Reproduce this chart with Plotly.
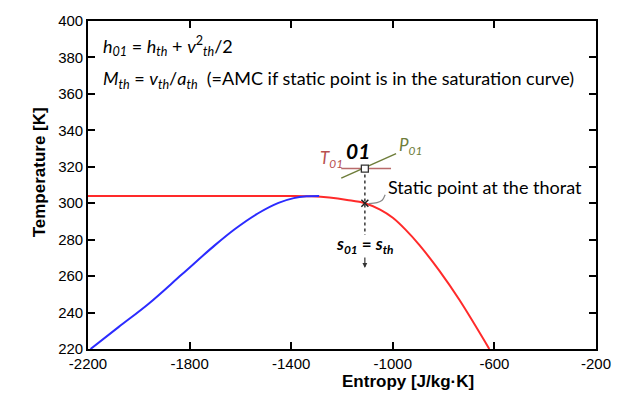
import plotly.graph_objects as go

# ---- data ----
blue_s = [-2190, -2080, -1960, -1830, -1700, -1620, -1530, -1450, -1390, -1340, -1290]
blue_T = [220, 232, 245, 261, 277, 286, 294.5, 300.2, 302.8, 303.8, 304]

red_s = [-2200, -1400, -1320, -1250, -1180, -1110, -1050, -1000, -950, -895, -817, -738, -620]
red_T = [304, 304, 303.8, 303.1, 301.8, 300.0, 296.5, 292.0, 285.5, 277, 263, 247, 220]

static_s, static_T = -1110, 300
stag_s, stag_T = -1110, 319

iso_T_s = [-1203, -1007]
iso_T_T = [319, 319]
iso_P_s = [-1203, -987]
iso_P_T = [313.8, 327.2]

vline_s = [-1110, -1110]
vline_T = [319, 282.5]

leader_s = [-1030, -1042, -1062, -1095]
leader_T = [304.6, 301.6, 300.3, 299.8]

x_ticks = [-2200, -1800, -1400, -1000, -600, -200]
x_ticktext = ["-2200", "-1800", "-1400", "-1000", "-600", "-200"]
y_ticks = [220, 240, 260, 280, 300, 320, 340, 360, 380, 400]
y_ticktext = [str(v) for v in y_ticks]

fig = go.Figure()
fig.add_trace(go.Scatter(x=red_s, y=red_T, mode="lines", line=dict(color="#ff2a2a", width=2, shape="spline", smoothing=1.0), hoverinfo="skip"))
fig.add_trace(go.Scatter(x=blue_s, y=blue_T, mode="lines", line=dict(color="#2b2bff", width=2, shape="spline", smoothing=1.0), hoverinfo="skip"))
fig.add_trace(go.Scatter(x=iso_T_s, y=iso_T_T, mode="lines", line=dict(color="#b86a6a", width=1.5), hoverinfo="skip"))
fig.add_trace(go.Scatter(x=iso_P_s, y=iso_P_T, mode="lines", line=dict(color="#6e7d3a", width=1.5), hoverinfo="skip"))
fig.add_trace(go.Scatter(x=vline_s, y=vline_T, mode="lines", line=dict(color="#444444", width=1.6, dash="dot"), hoverinfo="skip"))
fig.add_trace(go.Scatter(x=leader_s, y=leader_T, mode="lines", line=dict(color="#888888", width=1.2, shape="spline"), hoverinfo="skip"))
fig.add_trace(go.Scatter(x=[static_s], y=[static_T], mode="markers", marker=dict(symbol="x-thin", size=7, line=dict(color="#222222", width=1.5)), hoverinfo="skip"))
fig.add_trace(go.Scatter(x=[stag_s], y=[stag_T], mode="markers", marker=dict(symbol="square", size=7, color="white", line=dict(color="#333333", width=1.3)), hoverinfo="skip"))

txt = "Lato"
ann = []
ann.append(dict(x=-2150, y=386.5, xref="x", yref="y", xanchor="left", yanchor="middle", showarrow=False,
                text="<i>h</i><sub><i>01</i></sub> = <i>h</i><sub><i>th</i></sub> + <i>v</i><sup>2</sup><sub><i>th</i></sub>/2",
                font=dict(family=txt, size=18, color="black")))
ann.append(dict(x=-2150, y=367.8, xref="x", yref="y", xanchor="left", yanchor="middle", showarrow=False,
                text="<i>M</i><sub><i>th</i></sub> = <i>v</i><sub><i>th</i></sub>/<i>a</i><sub><i>th</i></sub>  (=AMC if static point is in the saturation curve)",
                font=dict(family=txt, size=18, color="black")))
ann.append(dict(x=-1138, y=329.0, xref="x", yref="y", showarrow=False, text="<b><i>01</i></b>",
                font=dict(family=txt, size=21, color="black")))
ann.append(dict(x=-1240, y=324.5, xref="x", yref="y", showarrow=False, text="<i>T</i><sub><i>01</i></sub>",
                font=dict(family=txt, size=17, color="#b85050")))
ann.append(dict(x=-932, y=331.5, xref="x", yref="y", showarrow=False, text="<i>P</i><sub><i>01</i></sub>",
                font=dict(family=txt, size=17, color="#6e7d3a")))
ann.append(dict(x=-1027, y=308.8, xref="x", yref="y", xanchor="left", showarrow=False, text="Static point at the thorat",
                font=dict(family=txt, size=18, color="black")))
ann.append(dict(x=-1110, y=277.0, xref="x", yref="y", showarrow=False,
                text="<b><i>s</i></b><sub><b><i>01</i></b></sub><b> = </b><b><i>s</i></b><sub><b><i>th</i></b></sub>",
                font=dict(family=txt, size=17, color="black")))
ann.append(dict(x=-1110, y=264.5, ax=-1110, ay=271.0, xref="x", yref="y", axref="x", ayref="y", showarrow=True,
                arrowhead=2, arrowsize=0.8, arrowwidth=1.2, arrowcolor="#333333", text=""))
ann.append(dict(x=408, y=394, xref="paper", yref="paper", showarrow=False, text="<b>Entropy [J/kg·K]</b>",
                font=dict(family="Liberation Sans", size=17, color="black")))
ann.append(dict(x=28, y=168, xref="paper", yref="paper", showarrow=False, text="<b>Temperature [K]</b>", textangle=-90,
                font=dict(family="Liberation Sans", size=17, color="black")))

W, H = 625, 407
ml, mr, mt, mb = 88, 29, 12, 58
pw, ph = W - ml - mr, H - mt - mb
for a in ann[-2:]:
    a["x"] = (a["x"] - ml) / pw
    a["y"] = 1 - (a["y"] - mt) / ph

axis_common = dict(showline=True, linewidth=1.6, linecolor="black", mirror="ticks", showgrid=False, zeroline=False,
                   ticks="inside", ticklen=7, tickwidth=1.6, tickcolor="black",
                   tickfont=dict(family="Liberation Sans", size=15, color="black"))

fig.update_layout(
    width=W, height=H, autosize=False,
    margin=dict(l=ml, r=mr, t=mt, b=mb),
    paper_bgcolor="white", plot_bgcolor="white",
    showlegend=False,
    annotations=ann,
    xaxis=dict(range=[-2200, -200], tickmode="array", tickvals=x_ticks, ticktext=x_ticktext, **axis_common),
    yaxis=dict(range=[220, 400], tickmode="array", tickvals=y_ticks, ticktext=y_ticktext, **axis_common),
)
fig.write_html("out.html")
